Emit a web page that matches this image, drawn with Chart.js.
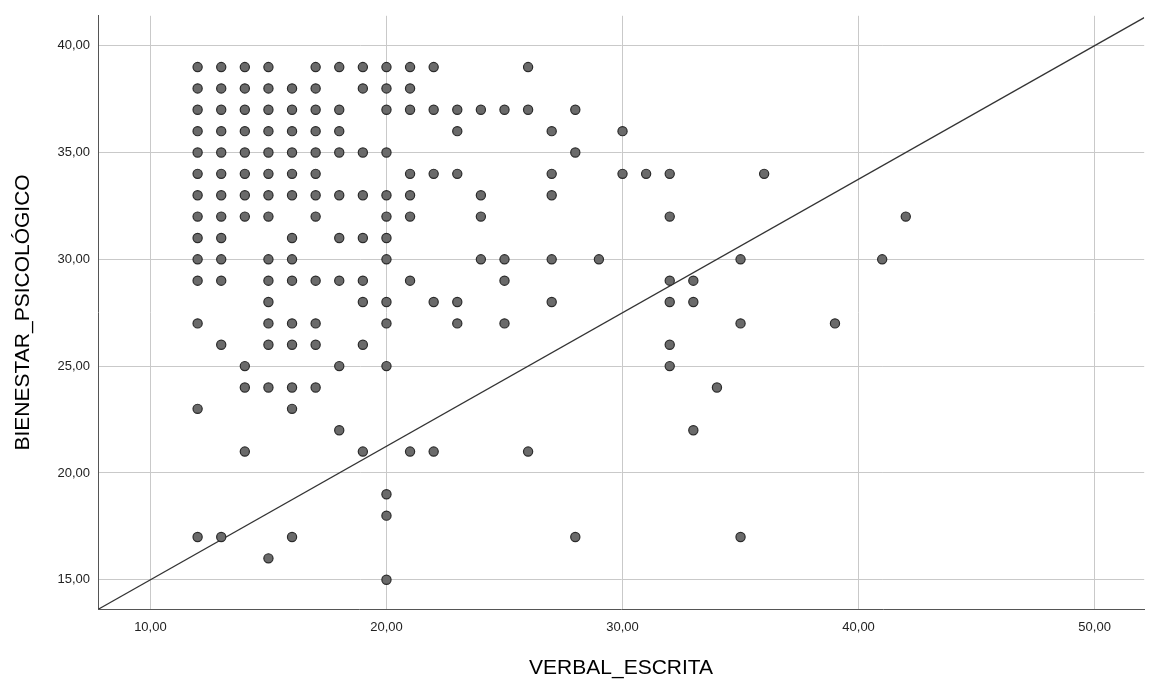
<!DOCTYPE html>
<html>
<head>
<meta charset="utf-8">
<script src="https://cdn.jsdelivr.net/npm/chart.js@4.4.1/dist/chart.umd.min.js"></script>
<style>
  html, body { margin: 0; padding: 0; background: #fff; }
  #wrap { width: 1150px; height: 682px; }
</style>
</head>
<body>
<div id="wrap"><canvas id="chart"></canvas></div>
<script>
// ------------------ Data ------------------
const verbalEscrita = [
    12, 13, 14, 15, 17, 18, 19, 20, 21, 22, 26,
    12, 13, 14, 15, 16, 17, 19, 20, 21,
    12, 13, 14, 15, 16, 17, 18, 20, 21, 22, 23, 24, 25, 26, 28,
    12, 13, 14, 15, 16, 17, 18, 23, 27, 30,
    12, 13, 14, 15, 16, 17, 18, 19, 20, 28,
    12, 13, 14, 15, 16, 17, 21, 22, 23, 27, 30, 31, 32, 36,
    12, 13, 14, 15, 16, 17, 18, 19, 20, 21, 24, 27,
    12, 13, 14, 15, 17, 20, 21, 24, 32, 42,
    12, 13, 16, 18, 19, 20,
    12, 13, 15, 16, 20, 24, 25, 27, 29, 35, 41,
    12, 13, 15, 16, 17, 18, 19, 21, 25, 32, 33,
    15, 19, 20, 22, 23, 27, 32, 33,
    12, 15, 16, 17, 20, 23, 25, 35, 39,
    13, 15, 16, 17, 19, 32,
    14, 18, 20, 32,
    14, 15, 16, 17, 34,
    12, 16,
    18, 33,
    14, 19, 21, 22, 26,
    20,
    20,
    12, 13, 16, 28, 35,
    15,
    20
];
const bienestarPsicologico = [
    39, 39, 39, 39, 39, 39, 39, 39, 39, 39, 39,
    38, 38, 38, 38, 38, 38, 38, 38, 38,
    37, 37, 37, 37, 37, 37, 37, 37, 37, 37, 37, 37, 37, 37, 37,
    36, 36, 36, 36, 36, 36, 36, 36, 36, 36,
    35, 35, 35, 35, 35, 35, 35, 35, 35, 35,
    34, 34, 34, 34, 34, 34, 34, 34, 34, 34, 34, 34, 34, 34,
    33, 33, 33, 33, 33, 33, 33, 33, 33, 33, 33, 33,
    32, 32, 32, 32, 32, 32, 32, 32, 32, 32,
    31, 31, 31, 31, 31, 31,
    30, 30, 30, 30, 30, 30, 30, 30, 30, 30, 30,
    29, 29, 29, 29, 29, 29, 29, 29, 29, 29, 29,
    28, 28, 28, 28, 28, 28, 28, 28,
    27, 27, 27, 27, 27, 27, 27, 27, 27,
    26, 26, 26, 26, 26, 26,
    25, 25, 25, 25,
    24, 24, 24, 24, 24,
    23, 23,
    22, 22,
    21, 21, 21, 21, 21,
    19,
    18,
    17, 17, 17, 17, 17,
    16,
    15
];

// reference line drawn across the plot
const fitIntercept = 8.75;
const fitSlope = 0.625;

const xTicks = [10, 20, 30, 40, 50];
const yTicks = [15, 20, 25, 30, 35, 40];
const xRange = [7.78, 52.1];
const yRange = [13.63, 41.4];

// ------------------ Build the chart ------------------
const scatterPoints = verbalEscrita.map((v, i) => ({ x: v, y: bienestarPsicologico[i] }));
const linePoints = xRange.map((v) => ({ x: v, y: fitIntercept + fitSlope * v }));

const fontFamily = "'Liberation Sans', Arial, sans-serif";
const gridColor = "#c9c9c9";
const axisColor = "#555";

const ctx = document.getElementById("chart").getContext("2d");
const myChart = new Chart(ctx, {
    type: "scatter",
    data: {
        datasets: [
            {
                label: "fit",
                type: "line",
                data: linePoints,
                borderColor: "#333",
                borderWidth: 1.3,
                pointRadius: 0,
                fill: false,
                order: 2,
            },
            {
                label: "casos",
                data: scatterPoints,
                backgroundColor: "#6a6a6a",
                borderColor: "#2b2b2b",
                borderWidth: 1.2,
                pointRadius: 4.6,
                pointHoverRadius: 4.6,
                order: 1,
            },
        ],
    },
    options: {
        responsive: true,
        maintainAspectRatio: false,
        animation: false,
        events: [],
        layout: { padding: { top: 13, right: 4, left: 0, bottom: 0 } },
        plugins: {
            legend: { display: false },
            tooltip: { enabled: false },
        },
        scales: {
            x: {
                type: "linear",
                min: xRange[0],
                max: xRange[1],
                afterBuildTicks: (scale) => { scale.ticks = xTicks.map((v) => ({ value: v })); },
                afterFit: (scale) => { scale.height = 73; },
                grid: { color: gridColor, lineWidth: 1, drawTicks: false },
                border: { color: axisColor, width: 1 },
                ticks: {
                    padding: 11,
                    color: "#222",
                    font: { family: fontFamily, size: 13 },
                    callback: (v) => v.toFixed(2).replace(".", ","),
                },
                title: {
                    display: true,
                    text: "VERBAL_ESCRITA",
                    color: "#000",
                    font: { family: fontFamily, size: 21 },
                    padding: { top: 0, bottom: 1 },
                },
            },
            y: {
                type: "linear",
                min: yRange[0],
                max: yRange[1],
                afterBuildTicks: (scale) => { scale.ticks = yTicks.map((v) => ({ value: v })); },
                afterFit: (scale) => { scale.width = 98; },
                grid: { color: gridColor, lineWidth: 1, drawTicks: false },
                border: { color: axisColor, width: 1 },
                ticks: {
                    padding: 8,
                    color: "#222",
                    font: { family: fontFamily, size: 13 },
                    callback: (v) => v.toFixed(2).replace(".", ","),
                },
                title: {
                    display: true,
                    text: "BIENESTAR_PSICOLÓGICO",
                    color: "#000",
                    font: { family: fontFamily, size: 21 },
                    padding: { top: 11, bottom: 0 },
                },
            },
        },
    },
});
</script>
</body>
</html>
